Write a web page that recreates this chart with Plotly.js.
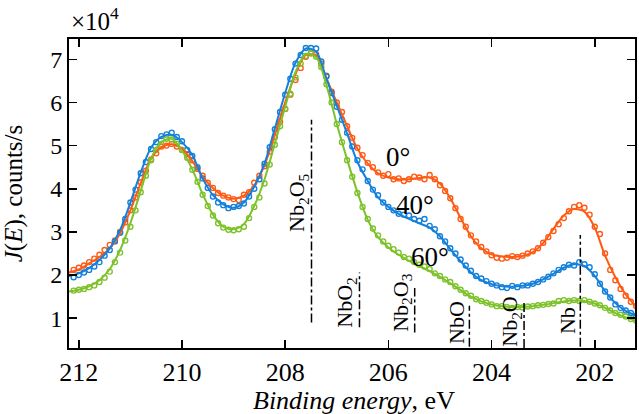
<!DOCTYPE html>
<html>
<head>
<meta charset="utf-8">
<script src="https://cdn.plot.ly/plotly-3.0.1.min.js"></script>
<style>html,body{margin:0;padding:0;background:#fff;}#chart{width:639px;height:414px;}</style>
</head>
<body>
<div id="chart"></div>
<script>
// ---- DATA (J(E) in units of 1e4 counts/s) ----
const seriesNames = ['0°', '40°', '60°'];

// measured points: binding energy (eV)
const pointEnergy = [
 212.1,212.0,211.9,211.8,211.7,211.6,211.5,211.4,211.3,211.2,
 211.1,211.0,210.9,210.8,210.7,210.6,210.5,210.4,210.3,210.2,
 210.1,210.0,209.9,209.8,209.7,209.6,209.5,209.4,209.3,209.2,
 209.1,209.0,208.9,208.8,208.7,208.6,208.5,208.4,208.3,208.2,
 208.1,208.0,207.9,207.8,207.7,207.6,207.5,207.4,207.3,207.2,
 207.1,207.0,206.9,206.8,206.7,206.6,206.5,206.4,206.3,206.2,
 206.1,206.0,205.9,205.8,205.7,205.6,205.5,205.4,205.3,205.2,
 205.1,205.0,204.9,204.8,204.7,204.6,204.5,204.4,204.3,204.2,
 204.1,204.0,203.9,203.8,203.7,203.6,203.5,203.4,203.3,203.2,
 203.1,203.0,202.9,202.8,202.7,202.6,202.5,202.4,202.3,202.2,
 202.1,202.0,201.9,201.8,201.7,201.6,201.5,201.4,201.3,201.2];

const points0 = [
 2.12,2.17,2.22,2.30,2.38,2.47,2.58,2.70,2.80,3.00,
 3.22,3.50,3.80,4.15,4.42,4.68,4.82,4.98,5.00,5.04,
 4.98,4.90,4.80,4.66,4.46,4.30,4.14,4.02,3.90,3.84,
 3.80,3.76,3.74,3.86,3.92,4.14,4.30,4.52,4.86,5.20,
 5.55,5.85,6.18,6.52,6.80,7.06,7.14,7.12,6.90,6.62,
 6.25,6.00,5.78,5.45,5.18,4.95,4.78,4.60,4.50,4.38,
 4.30,4.34,4.22,4.24,4.18,4.22,4.28,4.26,4.22,4.32,
 4.22,4.08,3.95,3.78,3.55,3.30,3.12,2.92,2.78,2.65,
 2.55,2.46,2.40,2.38,2.40,2.44,2.42,2.45,2.50,2.55,
 2.62,2.75,2.88,3.02,3.18,3.32,3.48,3.58,3.62,3.56,
 3.40,3.12,2.95,2.50,2.12,1.88,1.68,1.52,1.38,1.28];

const points40 = [
 1.95,2.00,2.06,2.12,2.20,2.30,2.45,2.58,2.78,2.98,
 3.30,3.68,3.98,4.36,4.62,4.92,5.08,5.22,5.26,5.30,
 5.20,5.10,4.90,4.76,4.50,4.24,4.02,3.82,3.68,3.62,
 3.55,3.58,3.60,3.66,3.82,4.00,4.22,4.58,4.96,5.38,
 5.78,6.18,6.55,6.90,7.10,7.26,7.26,7.25,6.95,6.60,
 6.22,5.90,5.60,5.30,4.98,4.66,4.45,4.18,3.98,3.85,
 3.68,3.58,3.50,3.42,3.40,3.38,3.30,3.26,3.30,3.14,
 3.06,2.90,2.78,2.62,2.50,2.36,2.22,2.10,1.98,1.92,
 1.86,1.80,1.76,1.72,1.70,1.75,1.72,1.76,1.76,1.80,
 1.84,1.90,1.96,2.04,2.12,2.18,2.24,2.22,2.30,2.25,
 2.18,2.02,1.80,1.62,1.48,1.32,1.24,1.18,1.12,1.06];

const points60 = [
 1.64,1.66,1.68,1.72,1.76,1.84,1.94,2.08,2.30,2.52,
 2.80,3.12,3.50,3.92,4.30,4.66,4.90,5.04,5.16,5.14,
 5.04,4.90,4.72,4.44,4.16,3.86,3.60,3.38,3.20,3.10,
 3.05,3.04,3.06,3.12,3.32,3.58,3.80,4.12,4.56,5.02,
 5.45,5.85,6.20,6.58,6.90,7.08,7.14,7.06,6.82,6.42,
 6.00,5.50,5.08,4.66,4.28,3.90,3.58,3.30,3.08,2.92,
 2.78,2.68,2.60,2.52,2.42,2.38,2.30,2.24,2.20,2.14,
 2.04,1.98,1.90,1.84,1.74,1.66,1.58,1.52,1.44,1.40,
 1.36,1.32,1.28,1.28,1.26,1.24,1.26,1.25,1.27,1.28,
 1.30,1.31,1.33,1.34,1.40,1.42,1.40,1.42,1.40,1.42,
 1.38,1.34,1.30,1.24,1.18,1.12,1.08,1.04,0.98,0.95];

// fitted curves
const fitEnergy = [
 212.2,212.0,211.8,211.6,211.4,211.2,211.0,210.8,210.6,210.4,
 210.2,210.0,209.8,209.6,209.4,209.2,209.0,208.8,208.6,208.4,
 208.2,208.0,207.8,207.6,207.4,207.2,207.0,206.8,206.6,206.4,
 206.2,206.0,205.8,205.6,205.4,205.2,205.0,204.8,204.6,204.4,
 204.2,204.0,203.8,203.6,203.4,203.2,203.0,202.8,202.6,202.4,
 202.2,202.0,201.8,201.6,201.4,201.2];

const fit0 = [
 2.06,2.13,2.27,2.42,2.62,2.97,3.50,4.13,4.70,4.96,
 5.03,4.93,4.64,4.28,4.02,3.84,3.77,3.84,4.08,4.55,
 5.25,6.00,6.66,7.10,7.08,6.55,6.00,5.45,4.93,4.58,
 4.36,4.26,4.22,4.22,4.25,4.26,4.12,3.78,3.32,2.90,
 2.62,2.48,2.43,2.42,2.44,2.53,2.74,3.07,3.38,3.53,
 3.47,3.10,2.45,1.95,1.55,1.27];

const fit40 = [
 1.97,2.04,2.16,2.35,2.62,3.04,3.68,4.38,4.95,5.20,
 5.25,5.08,4.78,4.24,3.85,3.64,3.56,3.68,4.05,4.58,
 5.40,6.22,6.92,7.25,7.18,6.55,5.92,5.28,4.62,4.18,
 3.80,3.58,3.42,3.30,3.20,3.10,2.90,2.60,2.32,2.06,
 1.88,1.79,1.74,1.73,1.75,1.80,1.90,2.03,2.17,2.25,
 2.21,1.98,1.62,1.35,1.17,1.06];

const fit60 = [
 1.62,1.66,1.74,1.88,2.14,2.58,3.20,3.95,4.70,5.08,
 5.16,4.88,4.45,3.88,3.40,3.12,3.06,3.18,3.60,4.22,
 5.05,5.90,6.70,7.12,7.05,6.40,5.50,4.68,3.92,3.28,
 2.88,2.64,2.47,2.33,2.21,2.09,1.96,1.81,1.65,1.50,
 1.39,1.32,1.28,1.26,1.26,1.28,1.31,1.35,1.39,1.41,
 1.40,1.34,1.24,1.12,1.02,0.94];

// reference binding energies of Nb states
const refLabels = ['Nb<sub>2</sub>O<sub>5</sub>','NbO<sub>2</sub>','Nb<sub>2</sub>O<sub>3</sub>','NbO','Nb<sub>2</sub>O','Nb'];
const refEnergy = [207.49, 206.56, 205.49, 204.43, 203.37, 202.28];
const refTop    = [5.60, 2.06, 1.70, 1.29, 1.39, 2.93];
const refBottom = [0.90, 0.79, 0.67, 0.34, 0.31, 0.34];

const xTicks = [212, 210, 208, 206, 204, 202];
const yTicks = [1, 2, 3, 4, 5, 6, 7];
const xTitle = '<i>Binding energy</i>, eV';
const yTitle = '<i>J</i>(<i>E</i>), counts/s';

// ---- STYLE ----
const colors = ['#ff5a14', '#1480dc', '#7dc22a'];
const FONT = 'Liberation Serif';
const refLabelY = [3.66, 1.37, 1.35, 0.90, 0.92, 0.94];

const pointSets = [points0, points40, points60];
const fitSets = [fit0, fit40, fit60];

const traces = [];
for (let i = 0; i < 3; i++) {
  traces.push({
    x: pointEnergy, y: pointSets[i], type: 'scatter', mode: 'markers',
    name: seriesNames[i] + ' data', showlegend: false,
    marker: {symbol: 'circle-open', size: 5, color: colors[i], line: {width: 1.4, color: colors[i]}},
    hoverinfo: 'x+y'
  });
}
for (let i = 0; i < 3; i++) {
  traces.push({
    x: fitEnergy, y: fitSets[i], type: 'scatter', mode: 'lines',
    name: seriesNames[i], showlegend: false,
    line: {color: colors[i], width: 2, shape: 'spline', smoothing: 0.8}
  });
}
for (let k = 0; k < refEnergy.length; k++) {
  traces.push({
    x: [refEnergy[k], refEnergy[k]], y: [refBottom[k], refTop[k]],
    type: 'scatter', mode: 'lines', showlegend: false, hoverinfo: 'skip',
    line: {color: '#000', width: 1.5, dash: 'dashdot'}
  });
}

const annotations = [];
for (let k = 0; k < refLabels.length; k++) {
  annotations.push({
    x: refEnergy[k], y: refLabelY[k], xref: 'x', yref: 'y',
    text: refLabels[k], showarrow: false, textangle: -90,
    xanchor: 'center', yanchor: 'middle', xshift: -13,
    font: {family: FONT, size: 22, color: '#000'}
  });
}
const angleLabelPos = [[205.82, 4.74], [205.48, 3.63], [205.19, 2.42]];
for (let i = 0; i < 3; i++) {
  annotations.push({
    x: angleLabelPos[i][0], y: angleLabelPos[i][1], xref: 'x', yref: 'y',
    text: seriesNames[i], showarrow: false, xanchor: 'center', yanchor: 'middle',
    font: {family: FONT, size: 27, color: '#000'}
  });
}
annotations.push({
  x: 0, y: 1, xref: 'paper', yref: 'paper', xanchor: 'left', yanchor: 'bottom',
  yshift: 2, text: '×10<sup>4</sup>', showarrow: false,
  font: {family: FONT, size: 25, color: '#000'}
});
// x-axis title placed as annotation for exact vertical position
annotations.push({
  x: 0.5, y: 0, xref: 'paper', yref: 'paper', xanchor: 'center', yanchor: 'middle',
  yshift: -52, xshift: 2, text: xTitle, showarrow: false,
  font: {family: FONT, size: 26, color: '#000'}
});

const axisCommon = {
  ticks: 'inside', ticklen: 8, tickwidth: 1.5, tickcolor: '#000',
  showline: true, linewidth: 2, linecolor: '#000', mirror: 'ticks',
  showgrid: false, zeroline: false
};

const layout = {
  width: 639, height: 414,
  margin: {l: 69, r: 4, t: 39, b: 66},
  paper_bgcolor: '#fff', plot_bgcolor: '#fff',
  font: {family: FONT, color: '#000'},
  showlegend: false,
  xaxis: Object.assign({}, axisCommon, {
    range: [212.19, 201.22], tickvals: xTicks, ticktext: xTicks.map(String),
    tickfont: {family: FONT, size: 26, color: '#000'}
  }),
  yaxis: Object.assign({}, axisCommon, {
    range: [0.31, 7.47], tickvals: yTicks, ticktext: yTicks.map(String),
    tickfont: {family: FONT, size: 24, color: '#000'},
    title: {text: yTitle, font: {family: FONT, size: 25, color: '#000'}}
  }),
  annotations: annotations
};

Plotly.newPlot('chart', traces, layout, {displayModeBar: false, staticPlot: true});
</script>
</body>
</html>
